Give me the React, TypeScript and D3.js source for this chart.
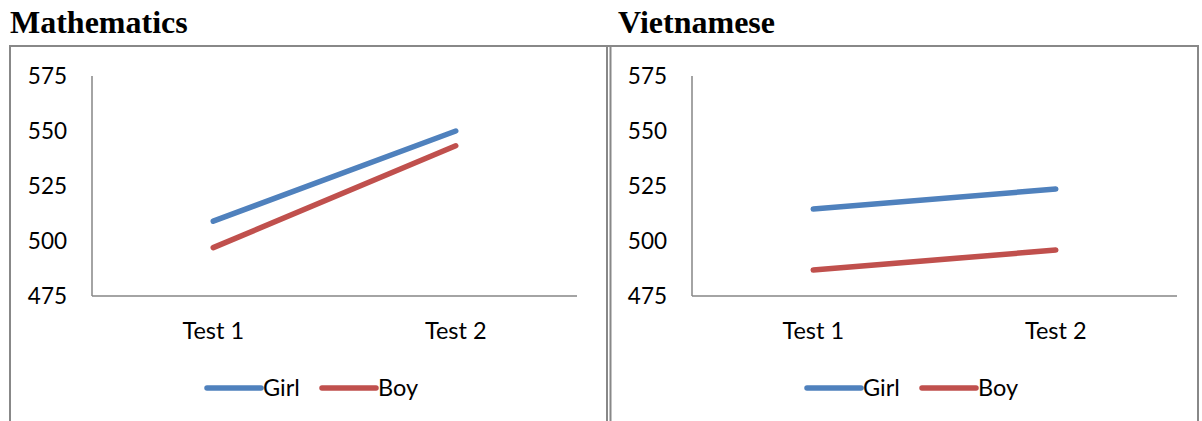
import React from "react";
import * as d3 from "d3";

const categories = ["Test 1", "Test 2"];
const yTicks = [475, 500, 525, 550, 575];
const seriesNames = ["Girl", "Boy"];
const seriesColors = ["#4F81BD", "#C0504D"];
const mathGirl = [509, 550];
const mathBoy = [497, 543.3];
const vietGirl = [514.5, 523.6];
const vietBoy = [486.8, 495.9];

const panels = [
  { title: "Mathematics", series: [mathGirl, mathBoy], px: 10, titleX: 10 },
  { title: "Vietnamese", series: [vietGirl, vietBoy], px: 610, titleX: 618 },
];

const FONT = "Lato, 'Open Sans', sans-serif";

function Panel({ p }: { p: any }) {
  const x0 = p.px + 82;
  const x = d3.scaleBand().domain(categories).range([x0, x0 + 485]).paddingInner(0).paddingOuter(0);
  const y = d3.scaleLinear().domain([475, 575]).range([296, 76]);
  const line = d3
    .line<number>()
    .x((_, i) => (x(categories[i]) as number) + x.bandwidth() / 2)
    .y((d) => y(d));
  const legendX = p.px + 197;
  return (
    <g>
      <text x={p.titleX} y={33} fontFamily="'Liberation Serif', 'Times New Roman', serif" fontWeight="bold" fontSize={32} fill="#000">
        {p.title}
      </text>
      <line x1={x0} x2={x0} y1={y(575)} y2={y(475)} stroke="#868686" strokeWidth={1.5} />
      <line x1={x0} x2={x0 + 485} y1={y(475)} y2={y(475)} stroke="#868686" strokeWidth={1.5} />
      {yTicks.map((t) => (
        <text key={t} x={p.px + 57} y={y(t)} dy="0.35em" textAnchor="end" fontFamily={FONT} fontSize={22.5} fill="#000">
          {t}
        </text>
      ))}
      {categories.map((c) => (
        <text key={c} x={(x(c) as number) + x.bandwidth() / 2} y={331} dy="0.35em" textAnchor="middle" fontFamily={FONT} fontSize={23.5} fill="#000">
          {c}
        </text>
      ))}
      {p.series.map((s: number[], i: number) => (
        <path key={i} d={line(s) as string} fill="none" stroke={seriesColors[i]} strokeWidth={5.5} strokeLinecap="round" />
      ))}
      {seriesNames.map((n, i) => {
        const lx = legendX + i * 115;
        return (
          <g key={n}>
            <line x1={lx} x2={lx + 54} y1={388} y2={388} stroke={seriesColors[i]} strokeWidth={5.5} strokeLinecap="round" />
            <text x={lx + 56} y={388} dy="0.35em" fontFamily={FONT} fontSize={23.5} fill="#000">
              {n}
            </text>
          </g>
        );
      })}
    </g>
  );
}

export default function App() {
  return (
    <svg width={1202} height={421} style={{ position: "absolute", left: 0, top: 0, background: "#fff" }}>
      <rect x={0} y={0} width={1202} height={421} fill="#fff" />
      <line x1={9} x2={1199} y1={46} y2={46} stroke="#888" strokeWidth={2} />
      <line x1={10} x2={10} y1={46} y2={421} stroke="#888" strokeWidth={2} />
      <line x1={607} x2={607} y1={46} y2={421} stroke="#888" strokeWidth={2} />
      <line x1={610.5} x2={610.5} y1={46} y2={421} stroke="#888" strokeWidth={2} />
      <line x1={1198} x2={1198} y1={46} y2={421} stroke="#888" strokeWidth={2} />
      {panels.map((p) => (
        <Panel key={p.title} p={p} />
      ))}
    </svg>
  );
}
